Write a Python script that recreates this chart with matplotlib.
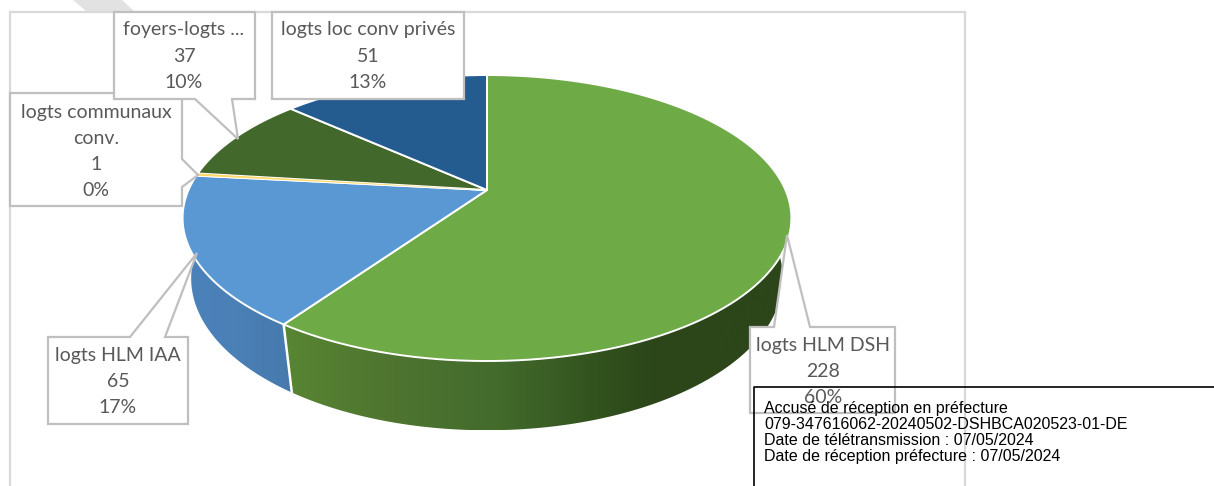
import numpy as np
import matplotlib
matplotlib.use("Agg")
import matplotlib.pyplot as plt
from matplotlib.colors import LinearSegmentedColormap
from matplotlib.patches import Polygon

# Data: dwelling counts by type, clockwise from twelve o'clock
categories = ["logts HLM DSH", "logts HLM IAA", "logts communaux\nconv.",
              "foyers-logts ...", "logts loc conv privés"]
values = [228, 65, 1, 37, 51]
percent_labels = ["60%", "17%", "0%", "10%", "13%"]
slice_colors = ["#6EAA46", "#5A98D4", "#FFD966", "#43682B", "#255C90"]
stamp_lines = ["Accusé de réception en préfecture",
               "079-347616062-20240502-DSHBCA020523-01-DE",
               "Date de télétransmission : 07/05/2024",
               "Date de réception préfecture : 07/05/2024"]

GREY_TEXT = "#595959"
GREY_LINE = "#BFBFBF"

fig = plt.figure(figsize=(12.14, 4.86), dpi=100)
ax = fig.add_axes([0, 0, 1, 1])
ax.axis("off")


def project(phi, k=0.196, a=137.5, b=298.5, y0=190.0):
    """Perspective view of a circle; phi is the clockwise angle from the top."""
    den = 1 + k * np.cos(phi)
    return 487 + b * np.sin(phi) / den, y0 - a * np.cos(phi) / den


def project_base(phi):
    """Same circle at the lower rim of the disc."""
    return project(phi, k=0.18, a=147.0, b=291.0, y0=251.0)


# Slice boundaries follow directly from the counts
edges = 2 * np.pi * np.cumsum([0] + values) / sum(values)

# Diagonal pale band above the chart frame
ax.add_patch(Polygon([(73, 0), (122, 0), (134, 11), (86, 11)], fc="#E2E2E2", ec="none"))
# Chart frame
ax.add_patch(Polygon([(10, 12), (965, 12), (965, 490), (10, 490)], fc="white", ec="#D9D9D9", lw=1.6))


def wall(phi_from, phi_to, colors):
    phis = np.linspace(phi_from, phi_to, 200)
    top = np.column_stack(project(phis))
    bottom = np.column_stack(project_base(phis))
    outline = np.vstack([top, bottom[::-1]])
    clip = Polygon(outline, fc="none", ec="none")
    ax.add_patch(clip)
    x0, x1 = outline[:, 0].min(), outline[:, 0].max()
    y0, y1 = outline[:, 1].min(), outline[:, 1].max()
    cmap = LinearSegmentedColormap.from_list("wall", colors)
    grad = np.linspace(0, 1, 256).reshape(1, -1)
    im = ax.imshow(grad, extent=[x0, x1, y1, y0], cmap=cmap, aspect="auto", zorder=2)
    im.set_clip_path(clip)
    return top, bottom


# Side walls of the two front slices; the gradients run left to right
wall(edges[1], edges[2], ["#4A82BA", "#4A80B6", "#4779AC"])
top_g, bot_g = wall(edges[0] + 1.3, edges[1],
                    [(0.0, "#588633"), (0.2, "#4F7530"), (0.42, "#436B2C"),
                     (0.6, "#33541F"), (0.72, "#2C4719"), (1.0, "#2C4519")])
split = np.array([top_g[-1], bot_g[-1]])
ax.plot(split[:, 0], split[:, 1], color="white", lw=1.8, zorder=3)

# Top face; the one-unit slice gets a finer edge so its colour stays visible
for i, color in enumerate(slice_colors):
    phis = np.linspace(edges[i], edges[i + 1], 120)
    xs, ys = project(phis)
    pts = np.vstack([[487, 190], np.column_stack([xs, ys])])
    ax.add_patch(Polygon(pts, closed=True, fc=color, ec="white", lw=1.4, zorder=4, joinstyle="round"))
phis = np.linspace(edges[2], edges[3], 20)
xs, ys = project(phis)
ax.add_patch(Polygon(np.vstack([[487, 190], np.column_stack([xs, ys])]), closed=True,
                     fc=slice_colors[2], ec="none", zorder=4.5))

# Callout outlines, drawn in back-to-front order
callouts = {
    2: [(10, 93), (182, 93), (182, 159), (198, 175), (182, 187), (182, 206), (10, 206)],
    3: [(114, 12), (255, 12), (255, 99), (232, 99), (238, 139), (195, 99), (114, 99)],
    4: [(272, 12), (464, 12), (464, 99), (272, 99)],
    1: [(48, 337), (130, 337), (197, 253), (165, 337), (188, 337), (188, 424), (48, 424)],
    0: [(750, 327), (774, 327), (787, 235), (810, 327), (895, 327), (895, 413), (750, 413)],
}
for pts in callouts.values():
    ax.add_patch(Polygon(pts, closed=True, fc="white", ec=GREY_LINE, lw=1.6, zorder=5, joinstyle="miter"))

# Label text: category, count and share
anchors = {0: (823, 345), 1: (118, 355), 2: (96, 112), 3: (184, 30), 4: (368, 30)}
LINE_H = 26.0
for i, (x, y) in anchors.items():
    rows = categories[i].split("\n") + [str(values[i]), percent_labels[i]]
    for j, row in enumerate(rows):
        ax.text(x, y + j * LINE_H, row, ha="center", va="center", family="Lato",
                fontsize=14, color=GREY_TEXT, zorder=6)

# Reception stamp, unfilled so the label beneath shows through
ax.plot([1216, 753.5, 753.5], [386.5, 386.5, 490], color="black", lw=1.2, zorder=7)
for j, line in enumerate(stamp_lines):
    ax.text(764, 408 + j * 16.1, line, ha="left", va="center", family="Liberation Sans",
            fontsize=11.5, color="black", zorder=8)

ax.set_xlim(0, 1214)
ax.set_ylim(486, 0)
fig.savefig("out.png", dpi=100, facecolor="white")
